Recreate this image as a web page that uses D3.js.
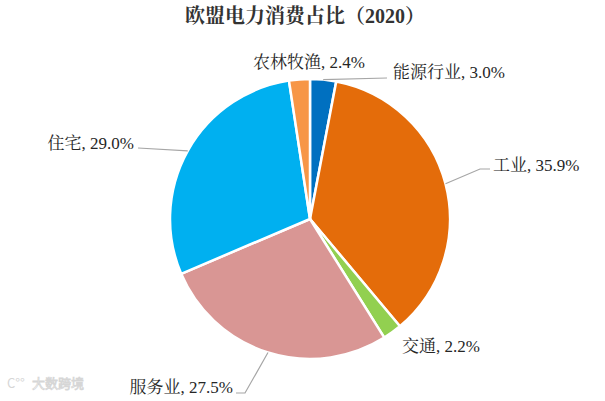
<!DOCTYPE html>
<html>
<head>
<meta charset="utf-8">
<script src="https://cdn.jsdelivr.net/npm/d3@7"></script>
<style>
  html, body { margin: 0; padding: 0; background: #fff; }
  svg { display: block; }
</style>
</head>
<body>
<svg id="chart" width="605" height="401"></svg>
<script>
// ---- data ----
const categories = ["能源行业", "工业", "交通", "服务业", "住宅", "农林牧渔"];
const shares = [3.0, 35.9, 2.2, 27.5, 29.0, 2.4];
const colors = ["#0070C0", "#E46C0A", "#92D050", "#D99694", "#00B0F0", "#F79646"];
const title = "欧盟电力消费占比（2020）";

// ---- layout ----
const W = 605, H = 401;
const cx = 310, cy = 219, R = 140;
const serif = "'Liberation Serif','Times New Roman','Noto Serif CJK SC','Noto Sans CJK SC',serif";

const svg = d3.select("#chart");
svg.append("rect").attr("width", W).attr("height", H).attr("fill", "#fff");

svg.append("text")
  .attr("x", 305).attr("y", 23)
  .attr("text-anchor", "middle")
  .attr("font-family", serif)
  .attr("font-weight", "bold")
  .attr("font-size", 20)
  .attr("fill", "#333")
  .text(title);

const data = categories.map((c, i) => ({ name: c, value: shares[i], color: colors[i] }));
const pie = d3.pie().sort(null).value(d => d.value).startAngle(0).endAngle(2 * Math.PI);
const arcs = pie(data);
const arcGen = d3.arc().innerRadius(0).outerRadius(R);

const g = svg.append("g").attr("transform", `translate(${cx},${cy})`);
g.selectAll("path").data(arcs).join("path")
  .attr("d", arcGen)
  .attr("fill", d => d.data.color)
  .attr("stroke", "#fff")
  .attr("stroke-width", 2.5)
  .attr("stroke-linejoin", "round");

// label placement (relative to pie centre); leader: bend points after the arc edge point
const labelLayout = {
  "能源行业": { tx: 83, ty: -147, anchor: "start", leader: [[77, -141]] },
  "工业":     { tx: 183, ty: -54, anchor: "start", leader: [[170, -50], [180, -50]] },
  "交通":     { tx: 92, ty: 127, anchor: "start", leader: null },
  "服务业":   { tx: -77, ty: 168, anchor: "end", leader: [[-65, 174], [-74, 174]] },
  "住宅":     { tx: -176, ty: -76, anchor: "end", leader: [[-172, -71]] },
  "农林牧渔": { tx: -57, ty: -157, anchor: "start", leader: null }
};

const lbl = svg.append("g").attr("transform", `translate(${cx},${cy})`);
arcs.forEach(a => {
  const L = labelLayout[a.data.name];
  const mid = (a.startAngle + a.endAngle) / 2;
  const p0 = [R * Math.sin(mid), -R * Math.cos(mid)];
  if (L.leader) {
    const pts = [p0].concat(L.leader);
    lbl.append("path")
      .attr("d", d3.line()(pts))
      .attr("fill", "none")
      .attr("stroke", "#a6a6a6")
      .attr("stroke-width", 1.2);
  }
  lbl.append("text")
    .attr("x", L.tx).attr("y", L.ty)
    .attr("text-anchor", L.anchor)
    .attr("dominant-baseline", "central")
    .attr("font-family", serif)
    .attr("font-size", 17)
    .attr("fill", "#262626")
    .text(`${a.data.name}, ${a.data.value.toFixed(1)}%`);
});

// watermark
const wm = svg.append("g").attr("opacity", 0.6);
wm.append("text")
  .attr("x", 7).attr("y", 388)
  .attr("font-family", "'Noto Sans CJK SC',sans-serif")
  .attr("font-size", 13)
  .attr("fill", "#bbb")
  .text("C°°");
wm.append("text")
  .attr("x", 32).attr("y", 388)
  .attr("font-family", "'Noto Sans CJK SC',sans-serif")
  .attr("font-size", 13)
  .attr("fill", "#fff")
  .attr("stroke", "#bbb")
  .attr("stroke-width", 0.8)
  .text("大数跨境");
</script>
</body>
</html>
